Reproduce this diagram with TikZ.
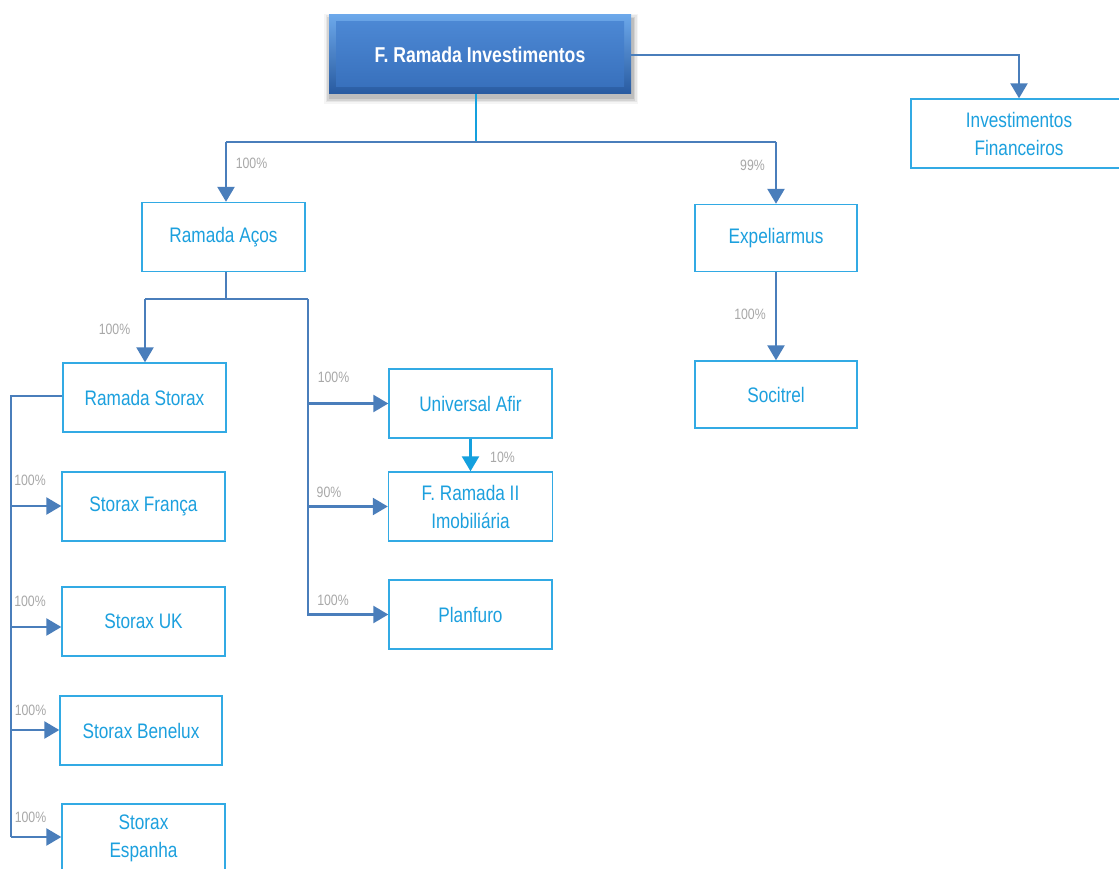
\documentclass[tikz,border=0pt]{standalone}
\usepackage{fontspec}
\setmainfont[FakeStretch=0.82]{Liberation Sans}
\usetikzlibrary{arrows.meta}
\definecolor{linecol}{RGB}{74,126,187}
\definecolor{cyanline}{RGB}{20,160,222}
\definecolor{boxborder}{RGB}{50,170,228}
\definecolor{boxtext}{RGB}{28,160,222}
\definecolor{pctgray}{RGB}{168,168,168}
\tikzset{
  org/.style={draw=boxborder, line width=1.4pt, fill=white, text=boxtext,
    font=\fontsize{21}{28}\selectfont, align=center, inner sep=0pt,
    minimum width=163pt, minimum height=69pt},
  pct/.style={text=pctgray, font=\fontsize{15}{18}\selectfont, inner sep=0pt},
  conn/.style={draw=linecol, line width=2.5pt, -{Triangle[width=17pt,length=15pt]}},
  plainline/.style={draw=linecol, line width=2.5pt},
  topbox/.style={inner sep=0pt, minimum width=302pt, minimum height=79pt,
    top color={rgb,255:red,108;green,168;blue,234},
    bottom color={rgb,255:red,40;green,90;blue,160},
    text=white, font=\fontsize{21.5}{24}\selectfont\bfseries,
    path picture={
      \fill[top color={rgb,255:red,78;green,138;blue,214},
            bottom color={rgb,255:red,54;green,110;blue,186}]
        ([shift={(7pt,7pt)}]path picture bounding box.south west) rectangle
        ([shift={(-7pt,-7pt)}]path picture bounding box.north east);
    }},
}
\begin{document}
\begin{tikzpicture}[x=1pt,y=-1pt]
\useasboundingbox (0,0) rectangle (1119,869);
\fill[white] (0,0) rectangle (1119,869);

% shadow of top box
\foreach \d/\o in {6/0.04,4.5/0.06,3/0.08,1.5/0.10}{
  \fill[black,opacity=\o] (329-\d+1,15-\d+5) rectangle (631+\d+1,94+\d+4);
}

% top box
\node[topbox] (top) at (480,54.5) {F. Ramada Investimentos};

% nodes
\node[org, minimum width=216pt] (inv) at (1019,133.5) {Investimentos\\Financeiros};
\node[org] (ra) at (223.5,237) {Ramada Aços};
\node[org, minimum width=162pt, minimum height=67pt] (exp) at (776,238) {Expeliarmus};
\node[org, minimum width=162pt, minimum height=67pt] (soc) at (776,394.5) {Socitrel};
\node[org] (rs) at (144.5,397.5) {Ramada Storax};
\node[org] (ua) at (470.5,403.5) {Universal Afir};
\node[org, minimum width=164pt] (fr) at (470.5,506.5) {F. Ramada II\\Imobiliária};
\node[org] (pl) at (470.5,614.5) {Planfuro};
\node[org] (sf) at (143.5,506.5) {Storax França};
\node[org] (suk) at (143.5,621.5) {Storax UK};
\node[org, minimum width=162pt] (sb) at (141,730.5) {Storax Benelux};
\node[org] (se) at (143.5,838.5) {Storax\\Espanha};

% junction coordinates
\coordinate (j1) at (476,142);
\coordinate (h1L) at (226,142);
\coordinate (h1R) at (776,142);
\coordinate (c1) at (1019,55);
\coordinate (j2) at (226,299);
\coordinate (h2L) at (145,299);
\coordinate (h2R) at (308,299);
\coordinate (v3) at (11,396);
\coordinate (bFR) at (11,506);
\coordinate (bUK) at (11,627);
\coordinate (bBE) at (11,730);
\coordinate (bES) at (11,837);

% connectors from top
\draw[draw=cyanline, line width=2.5pt] (top.south -| j1) -- (j1);
\draw[plainline] (h1L) -- (h1R);
\draw[conn] (h1L) -- (ra.north -| h1L);
\draw[conn] (h1R) -- (exp.north -| h1R);
\draw[conn] (top.east |- c1) -- (c1) -- (inv.north -| c1);

% Ramada Aços
\draw[plainline] (ra.south -| j2) -- (j2);
\draw[plainline] (h2L) -- (h2R);
\draw[conn] (h2L) -- (rs.north -| h2L);
\draw[conn] (h2R) |- (pl.west);
\draw[conn] (h2R |- ua.west) -- (ua.west);
\draw[conn] (h2R |- fr.west) -- (fr.west);

% Universal Afir -> F. Ramada II
\draw[conn, draw=cyanline] (ua.south) -- (fr.north);

% Expeliarmus -> Socitrel
\draw[conn] (exp.south) -- (soc.north);

% Ramada Storax
\draw[plainline] (rs.west |- v3) -- (v3) -- (bES);
\draw[conn] (bFR) -- (sf.west |- bFR);
\draw[conn] (bUK) -- (suk.west |- bUK);
\draw[conn] (bBE) -- (sb.west |- bBE);
\draw[conn] (bES) -- (se.west |- bES);

% percentages
\node[pct] (p1) at (251.5,163) {100\%};
\node[pct] (p2) at (752.5,165.5) {99\%};
\node[pct] (p3) at (114.5,329) {100\%};
\node[pct] (p4) at (750,314.5) {100\%};
\node[pct] (p5) at (333.5,377.5) {100\%};
\node[pct] (p6) at (502.5,457) {10\%};
\node[pct] (p7) at (329,492) {90\%};
\node[pct] (p8) at (333,600) {100\%};
\node[pct] (p9) at (30,480) {100\%};
\node[pct] (p10) at (30,601.5) {100\%};
\node[pct] (p11) at (30.5,710) {100\%};
\node[pct] (p12) at (30.5,817.5) {100\%};
\end{tikzpicture}
\end{document}
